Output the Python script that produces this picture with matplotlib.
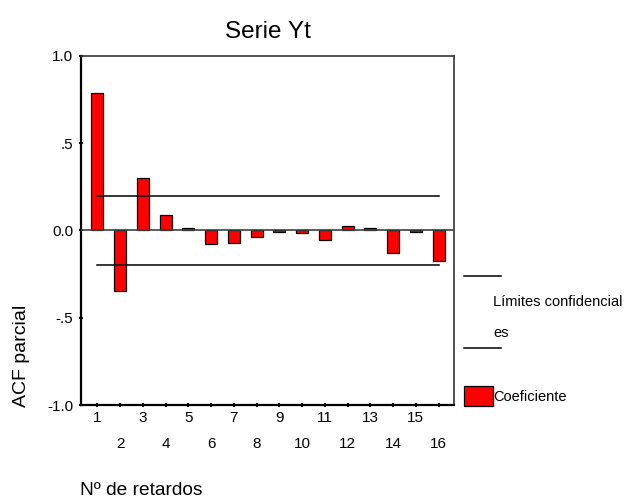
import matplotlib
matplotlib.use("Agg")
import matplotlib.pyplot as plt
from matplotlib.lines import Line2D
from matplotlib.patches import Rectangle

plt.rcParams['font.family'] = ['Liberation Sans', 'DejaVu Sans']

# Partial autocorrelations
lags = list(range(1, 17))
pacf = [0.786, -0.349, 0.303, 0.090, 0.015, -0.079, -0.073, -0.040,
        -0.010, -0.017, -0.056, 0.025, 0.015, -0.127, -0.008, -0.174]
conf_limit = 0.197

yticks = [-1.0, -0.5, 0.0, 0.5, 1.0]
ytick_labels = ["-1.0", "-.5", "0.0", ".5", "1.0"]

fig = plt.figure(figsize=(6.27, 5.03), dpi=100)
ax = fig.add_axes([0.1292, 0.1948, 0.5949, 0.6939])

ax.bar(lags, pacf, width=0.53, color="#ff0000", edgecolor="black",
       linewidth=0.9, zorder=3)
ax.axhline(0, color="#404040", linewidth=1.2, zorder=4)
# confidence limits are drawn over the bars
ax.plot([lags[0], lags[-1]], [conf_limit, conf_limit], color="black",
        linewidth=1.1, zorder=5)
ax.plot([lags[0], lags[-1]], [-conf_limit, -conf_limit], color="black",
        linewidth=1.1, zorder=5)

ax.set_xlim(0.28, 16.68)
ax.set_ylim(-1, 1)

ax.set_yticks(yticks)
ax.set_yticklabels(ytick_labels)

# Odd lags on the first row, even lags staggered below
odd = [l for l in lags if l % 2 == 1]
even = [l for l in lags if l % 2 == 0]
ax.set_xticks(odd)
ax.set_xticklabels([str(l) for l in odd])
ax.set_xticks(even, minor=True)
ax.set_xticklabels([str(l) for l in even], minor=True)

ax.tick_params(axis="both", which="both", direction="inout", length=3,
               width=1.5, labelsize=11, color="black")
ax.tick_params(axis="x", which="major", pad=3)
ax.tick_params(axis="x", which="minor", pad=21.5)
ax.tick_params(axis="y", pad=4)

for side in ["left", "bottom"]:
    ax.spines[side].set_linewidth(1.6)
    ax.spines[side].set_color("black")
for side in ["top", "right"]:
    ax.spines[side].set_linewidth(1.2)
    ax.spines[side].set_color("#333333")

fig.text(0.4266, 0.937, "Serie Yt", fontsize=17.5, ha="center", va="center")
fig.text(0.034, 0.292, "ACF parcial", fontsize=14, rotation=90,
         ha="center", va="center")
fig.text(0.128, 0.025, "Nº de retardos", fontsize=13.8, ha="left", va="center")

# Legend drawn at the right
W, H = 627, 503
fig.add_artist(Line2D([464 / W, 501 / W], [1 - 275.7 / H] * 2, color="black",
                      linewidth=1.1, transform=fig.transFigure))
fig.add_artist(Line2D([464 / W, 501 / W], [1 - 348 / H] * 2, color="black",
                      linewidth=1.1, transform=fig.transFigure))
fig.text(493 / W, 1 - 302 / H, "Límites confidencial", fontsize=10.5,
         ha="left", va="center")
fig.text(493 / W, 1 - 333 / H, "es", fontsize=10.5, ha="left", va="center")
fig.add_artist(Rectangle((464 / W, 1 - 405.7 / H), 28.7 / W, 19.7 / H,
                         facecolor="#ff0000", edgecolor="black", linewidth=0.9,
                         transform=fig.transFigure))
fig.text(493 / W, 1 - 397 / H, "Coeficiente", fontsize=10.5,
         ha="left", va="center")

fig.savefig("out.png", dpi=100)
